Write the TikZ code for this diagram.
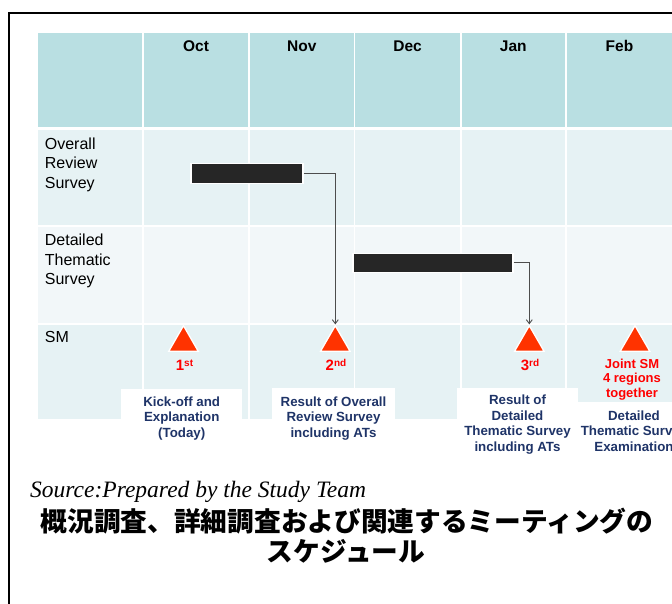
\documentclass[tikz,border=0pt]{standalone}
\usepackage{fontspec}
\setmainfont{Liberation Sans}
\newfontfamily\srcfont{Liberation Serif}
\newfontfamily\cjk{Noto Sans CJK JP}
\usetikzlibrary{shapes.geometric,arrows.meta}
\definecolor{hdr}{HTML}{B9DFE2}
\definecolor{rowa}{HTML}{E6F2F4}
\definecolor{rowb}{HTML}{F2F7F9}
\definecolor{barc}{HTML}{262626}
\definecolor{tric}{HTML}{FF3300}
\definecolor{ordc}{HTML}{FF0000}
\definecolor{navy}{HTML}{1F3468}
\definecolor{connc}{HTML}{4D4D4D}
\tikzset{
  month/.style={font=\fontsize{15.5}{18}\selectfont\bfseries, inner sep=0pt, anchor=base},
  rowlbl/.style={font=\fontsize{16}{19.5}\selectfont, align=left, inner sep=0pt, anchor=base west},
  ganttbar/.style={fill=barc, draw=white, line width=1.3pt, inner sep=0pt},
  tri/.style={regular polygon, regular polygon sides=3, fill=tric, draw=white, line width=1.3pt, inner sep=0pt, minimum size=34pt},
  ordlbl/.style={font=\fontsize{15}{18}\selectfont\bfseries, text=ordc, inner sep=0pt, anchor=base},
  jointlbl/.style={font=\fontsize{13}{14.5}\selectfont\bfseries, text=ordc, align=center, inner sep=0pt, anchor=base},
  boxlbl/.style={font=\fontsize{13.3}{15.5}\selectfont\bfseries, text=navy, align=center, inner sep=0pt, anchor=base},
  conn/.style={draw=connc, line width=0.9pt, -{Straight Barb[length=4pt,width=6pt]}},
}
\newcommand{\ordsup}[2]{#1\raisebox{4.5pt}{\fontsize{10}{10}\selectfont #2}}
\begin{document}
\begin{tikzpicture}[x=1pt,y=-1pt]
\useasboundingbox (0,0) rectangle (672,604);
\clip (0,0) rectangle (672,604);
\fill[white] (0,0) rectangle (672,604);
% outer frame
\draw[line width=2pt] (9,13.5) rectangle (740,720);
% table background
\fill[hdr]  (38.3,33)    rectangle (690,127.3);
\fill[rowa] (38.3,130.3) rectangle (690,225.3);
\fill[rowb] (38.3,227.3) rectangle (690,322.7);
\fill[rowa] (38.3,324.7) rectangle (690,418.5);
\foreach \x in {142.7,249,354.5,460.7,566.3}
  \draw[white,line width=1.8pt] (\x,33) -- (\x,418.5);
% white label boxes
\fill[white] (121,389) rectangle (242,420);
\fill[white] (272,388) rectangle (395,420);
\fill[white] (457.3,387.5) rectangle (577.7,420);
\fill[white] (566,401.7) rectangle (690,420);
% month headers
\node[month] (oct) at (196,51.7) {Oct};
\node[month] (nov) at (301.8,51.7) {Nov};
\node[month] (dec) at (407.6,51.7) {Dec};
\node[month] (jan) at (513.3,51.7) {Jan};
\node[month] (feb) at (619.5,51.7) {Feb};
% row labels (anchor = baseline of last line)
\node[rowlbl] (r1) at (44.7,188.3) {Overall\\Review\\Survey};
\node[rowlbl] (r2) at (44.7,284.5) {Detailed\\Thematic\\Survey};
\node[rowlbl] (r3) at (44.7,342) {SM};
% bars
\node[ganttbar, minimum width=112pt, minimum height=20pt] (bar1) at (247,173.3) {};
\node[ganttbar, minimum width=160pt, minimum height=19pt] (bar2) at (433,262.8) {};
% triangles
\node[tri] (t1) at (183.5,342.7) {};
\node[tri] (t2) at (335.3,342.7) {};
\node[tri] (t3) at (529.3,342.7) {};
\node[tri] (t4) at (635,342.7) {};
% connectors
\draw[conn] (bar1.east) -| (t2.corner 1);
\draw[conn] (bar2.east) -| (t3.corner 1);
% ordinal labels
\node[ordlbl] (o1) at (184.5,370.7) {\ordsup{1}{st}};
\node[ordlbl] (o2) at (336,370.7) {\ordsup{2}{nd}};
\node[ordlbl] (o3) at (530,370.7) {\ordsup{3}{rd}};
\node[jointlbl] (o4) at (632,397.3) {Joint SM\\4 regions\\together};
% box labels (anchor = baseline of last line)
\node[boxlbl] (b1) at (181.7,437) {Kick-off and\\Explanation\\(Today)};
\node[boxlbl] (b2) at (333.5,437) {Result of Overall\\Review Survey\\including ATs};
\node[boxlbl] (b3) at (517.5,451) {Result of\\Detailed\\Thematic Survey\\including ATs};
\node[boxlbl] (b4) at (634,451) {Detailed\\Thematic Survey\\Examination};
% footer
\node[font=\srcfont\itshape\fontsize{23.5}{26}\selectfont, inner sep=0pt, anchor=base west] (src) at (30,497) {Source:Prepared by the Study Team};
\node[font=\cjk\bfseries\fontsize{26.7}{30}\selectfont, inner sep=0pt] (ttl1) at (347,521) {概況調査、詳細調査および関連するミーティングの};
\node[font=\cjk\bfseries\fontsize{26.7}{30}\selectfont, inner sep=0pt] (ttl2) at (346,551) {スケジュール};
\end{tikzpicture}
\end{document}
